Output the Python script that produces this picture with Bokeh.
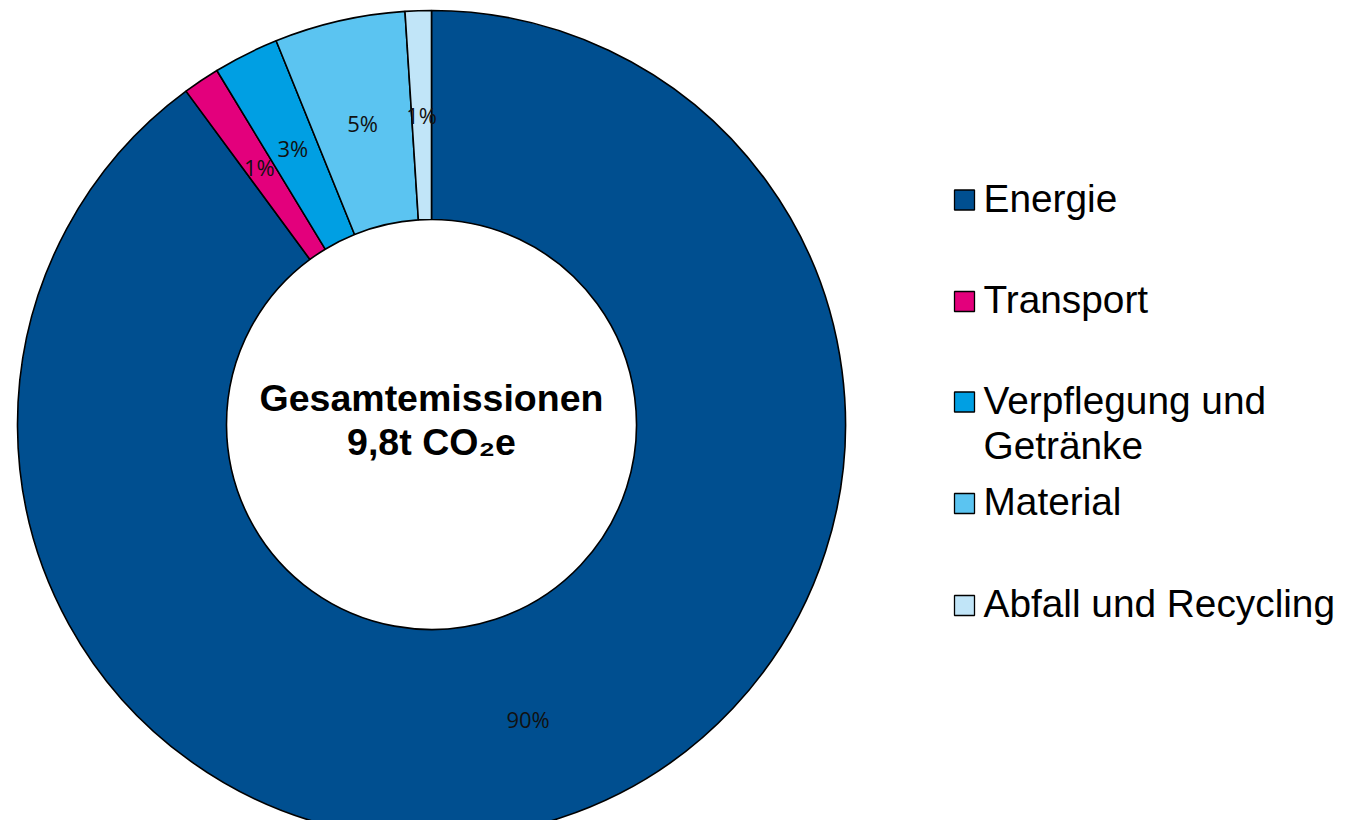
import numpy as np
from bokeh.plotting import figure
from bokeh.models import Range1d, ColumnDataSource
from bokeh.core.properties import value
from bokeh.embed import file_html
from bokeh.resources import INLINE

# ---- data ----
categories = ["Energie", "Transport", "Verpflegung und Getränke", "Material", "Abfall und Recycling"]
legend_labels = ["Energie", "Transport", "Verpflegung und\nGetränke", "Material", "Abfall und Recycling"]
emissions_t = [8.81, 0.14, 0.25, 0.50, 0.10]
colors = ["#004F90", "#E3007C", "#009FE3", "#5BC4F1", "#C1E5F8"]
center_title = "Gesamtemissionen"
center_value = "9,8t CO₂e"

# ---- layout (screen pixel coords; y measured downward) ----
W, H = 1341, 820
cx, cy = 431, 424
r_in, r_out = 205, 414
legend_sq_x = 964
legend_txt_x = 983
legend_y = [197.5, 299, 399.5, 501, 603]
line_gap = 45

p = figure(width=W, height=H, output_backend="svg", toolbar_location=None,
           x_range=Range1d(0, W), y_range=Range1d(-H, 0),
           min_border=0, outline_line_color=None)
p.axis.visible = False
p.grid.visible = False
p.background_fill_color = "white"
p.border_fill_color = "white"

vals = np.array(emissions_t, dtype=float)
frac = vals / vals.sum()
cum_end = np.cumsum(frac)
cum_start = cum_end - frac
start = np.pi / 2 - 2 * np.pi * cum_start
end = np.pi / 2 - 2 * np.pi * cum_end
mid = np.pi / 2 - 2 * np.pi * (cum_start + frac / 2)
r_mid = (r_in + r_out) / 2
pct = [f"{int(round(f * 100))}%" for f in frac]

src = ColumnDataSource(dict(cat=categories, start=start, end=end, color=colors,
                            lx=cx + r_mid * np.cos(mid), ly=-cy + r_mid * np.sin(mid), pct=pct))

p.annular_wedge(x=cx, y=-cy, inner_radius=r_in, outer_radius=r_out,
                start_angle="start", end_angle="end", direction="clock",
                fill_color="color", line_color="black", line_width=1.6, source=src)

p.text(x="lx", y="ly", text="pct", source=src, text_align="center", text_baseline="middle",
       text_font=value("Open Sans"), text_font_size="22px", text_color="#111111")

# centre text
p.text(x=[cx], y=[-397], text=[center_title], text_align="center", text_baseline="alphabetic",
       text_font=value("Liberation Sans"), text_font_size="37.5px", text_font_style="bold",
       text_color="black")
p.text(x=[cx], y=[-441], text=[center_value], text_align="center", text_baseline="alphabetic",
       text_font=value("Liberation Sans"), text_font_size="37.5px", text_font_style="bold",
       text_color="black")

# legend
p.rect(x=[legend_sq_x] * len(categories), y=[-(y + 2) for y in legend_y], width=20, height=20,
       fill_color=colors, line_color="black", line_width=1.3)
tx, ty, tt = [], [], []
for lab, y in zip(legend_labels, legend_y):
    for k, line in enumerate(lab.split("\n")):
        tx.append(legend_txt_x)
        ty.append(-(y + k * line_gap))
        tt.append(line)
p.text(x=tx, y=ty, text=tt, text_align="left", text_baseline="middle",
       text_font=value("Liberation Sans"), text_font_size="38.8px", text_color="black")

open("out.html", "w").write(file_html(p, INLINE))
